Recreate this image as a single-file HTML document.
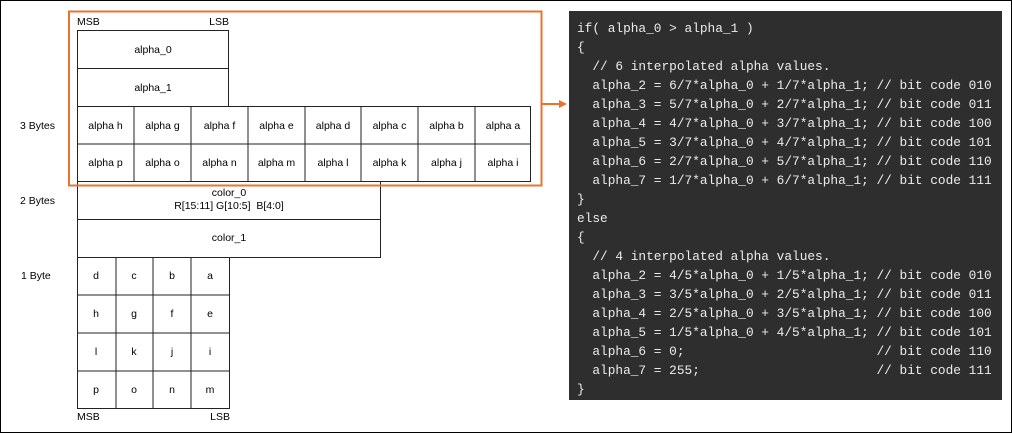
<!DOCTYPE html>
<html><head><meta charset="utf-8"><style>
html,body{margin:0;padding:0;background:#fff}
svg{display:block}
.code text{white-space:pre}
</style></head><body>
<svg width="1012" height="434" viewBox="0 0 1012 434" xmlns="http://www.w3.org/2000/svg">
<rect x="0.5" y="0.5" width="1011" height="432" fill="#fff" stroke="#000"/>
<g font-family="Liberation Sans, sans-serif" font-size="10.5" fill="#000" text-anchor="middle">
<g fill="none" stroke="#222" stroke-width="1">
<rect x="77.5" y="30.5" width="151" height="38"/>
<rect x="77.5" y="68.5" width="151" height="38"/>
<rect x="77.5" y="106.5" width="453" height="75"/>
<line x1="77" y1="144" x2="531" y2="144"/>
<line x1="134" y1="106" x2="134" y2="182"/><line x1="191" y1="106" x2="191" y2="182"/>
<line x1="248" y1="106" x2="248" y2="182"/><line x1="305" y1="106" x2="305" y2="182"/>
<line x1="361" y1="106" x2="361" y2="182"/><line x1="418" y1="106" x2="418" y2="182"/>
<line x1="475" y1="106" x2="475" y2="182"/>
<rect x="77.5" y="181.5" width="303" height="38"/>
<rect x="77.5" y="219.5" width="303" height="38"/>
<rect x="77.5" y="257.5" width="152" height="151"/>
<line x1="77" y1="295" x2="230" y2="295"/><line x1="77" y1="333" x2="230" y2="333"/><line x1="77" y1="371" x2="230" y2="371"/>
<line x1="116" y1="257" x2="116" y2="409"/><line x1="153" y1="257" x2="153" y2="409"/><line x1="191" y1="257" x2="191" y2="409"/>
</g>
<text x="153" y="53">alpha_0</text>
<text x="153" y="91">alpha_1</text>
<g>
<text x="105.5" y="129">alpha h</text><text x="162.5" y="129">alpha g</text><text x="219.5" y="129">alpha f</text><text x="276.5" y="129">alpha e</text><text x="333" y="129">alpha d</text><text x="389.5" y="129">alpha c</text><text x="446.5" y="129">alpha b</text><text x="503" y="129">alpha a</text>
<text x="105.5" y="166">alpha p</text><text x="162.5" y="166">alpha o</text><text x="219.5" y="166">alpha n</text><text x="276.5" y="166">alpha m</text><text x="333" y="166">alpha l</text><text x="389.5" y="166">alpha k</text><text x="446.5" y="166">alpha j</text><text x="503" y="166">alpha i</text>
</g>
<text x="229" y="196">color_0</text>
<text x="229" y="209" style="white-space:pre">R[15:11] G[10:5]  B[4:0]</text>
<text x="229" y="241">color_1</text>
<g>
<text x="96" y="279">d</text><text x="134" y="279">c</text><text x="172" y="279">b</text><text x="210" y="279">a</text>
<text x="96" y="317">h</text><text x="134" y="317">g</text><text x="172" y="317">f</text><text x="210" y="317">e</text>
<text x="96" y="355">l</text><text x="134" y="355">k</text><text x="172" y="355">j</text><text x="210" y="355">i</text>
<text x="96" y="393">p</text><text x="134" y="393">o</text><text x="172" y="393">n</text><text x="210" y="393">m</text>
</g>
<g text-anchor="start">
<text x="77" y="25">MSB</text><text x="77" y="420">MSB</text>
<text x="20" y="129">3 Bytes</text><text x="20" y="204">2 Bytes</text><text x="21" y="279">1 Byte</text>
</g>
<g text-anchor="end"><text x="229" y="25">LSB</text><text x="230" y="420">LSB</text></g>
</g>
<rect x="69" y="11.5" width="472.5" height="174" fill="none" stroke="#e8742f" stroke-width="2"/>
<line x1="541" y1="104" x2="561" y2="104" stroke="#e8742f" stroke-width="2"/>
<polygon points="567,104 559,100 559,108" fill="#e8742f"/>
<rect x="569" y="11" width="433" height="389" fill="#2e2e2e"/>
<g class="code" font-family="Liberation Mono, monospace" font-size="12.8" fill="#ececec">
<text x="577" y="32">if( alpha_0 &gt; alpha_1 )</text>
<text x="577" y="51">{</text>
<text x="577" y="70">  // 6 interpolated alpha values.</text>
<text x="577" y="89">  alpha_2 = 6/7*alpha_0 + 1/7*alpha_1; // bit code 010</text>
<text x="577" y="108">  alpha_3 = 5/7*alpha_0 + 2/7*alpha_1; // bit code 011</text>
<text x="577" y="127">  alpha_4 = 4/7*alpha_0 + 3/7*alpha_1; // bit code 100</text>
<text x="577" y="146">  alpha_5 = 3/7*alpha_0 + 4/7*alpha_1; // bit code 101</text>
<text x="577" y="165">  alpha_6 = 2/7*alpha_0 + 5/7*alpha_1; // bit code 110</text>
<text x="577" y="184">  alpha_7 = 1/7*alpha_0 + 6/7*alpha_1; // bit code 111</text>
<text x="577" y="203">}</text>
<text x="577" y="222">else</text>
<text x="577" y="241">{</text>
<text x="577" y="260">  // 4 interpolated alpha values.</text>
<text x="577" y="279">  alpha_2 = 4/5*alpha_0 + 1/5*alpha_1; // bit code 010</text>
<text x="577" y="298">  alpha_3 = 3/5*alpha_0 + 2/5*alpha_1; // bit code 011</text>
<text x="577" y="317">  alpha_4 = 2/5*alpha_0 + 3/5*alpha_1; // bit code 100</text>
<text x="577" y="336">  alpha_5 = 1/5*alpha_0 + 4/5*alpha_1; // bit code 101</text>
<text x="577" y="355">  alpha_6 = 0;                         // bit code 110</text>
<text x="577" y="374">  alpha_7 = 255;                       // bit code 111</text>
<text x="577" y="393">}</text>
</g>
</svg>
</body></html>
